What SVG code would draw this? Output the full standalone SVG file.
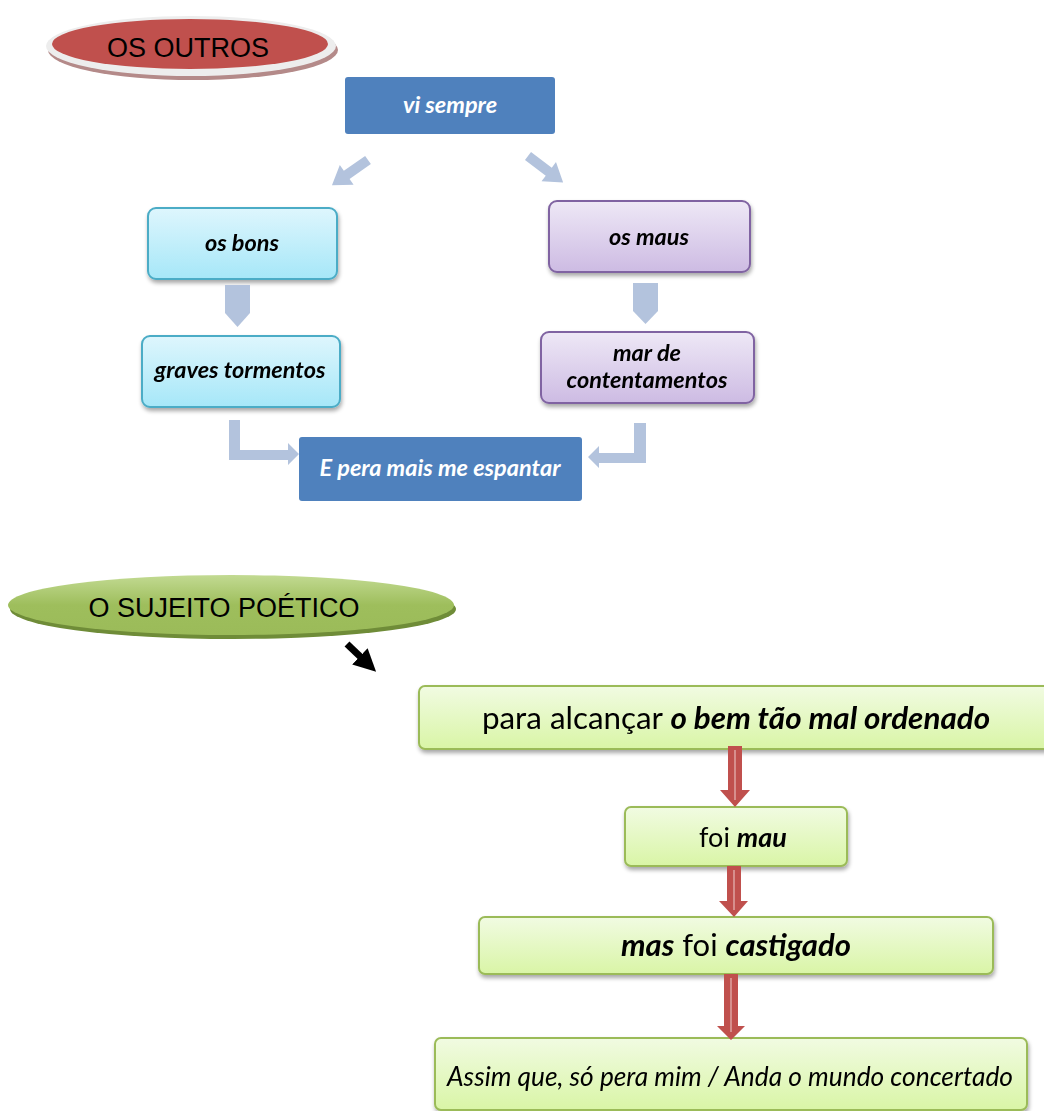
<svg xmlns="http://www.w3.org/2000/svg" width="1044" height="1111" viewBox="0 0 1044 1111">
  <defs>
    <linearGradient id="gCyan" x1="0" y1="0" x2="0" y2="1">
      <stop offset="0" stop-color="#DEF6FD"/>
      <stop offset="1" stop-color="#A6E7F8"/>
    </linearGradient>
    <linearGradient id="gPurple" x1="0" y1="0" x2="0" y2="1">
      <stop offset="0" stop-color="#EEE8F6"/>
      <stop offset="1" stop-color="#CDBBE3"/>
    </linearGradient>
    <linearGradient id="gLime" x1="0" y1="0" x2="0" y2="1">
      <stop offset="0" stop-color="#F1FBE2"/>
      <stop offset="1" stop-color="#D9F5A6"/>
    </linearGradient>
    <linearGradient id="gOlive" x1="0" y1="0" x2="0" y2="1">
      <stop offset="0" stop-color="#C2DA92"/>
      <stop offset="0.5" stop-color="#9EBE5C"/>
      <stop offset="1" stop-color="#9BBB59"/>
    </linearGradient>
    <filter id="shadow" x="-10%" y="-20%" width="120%" height="150%">
      <feGaussianBlur in="SourceAlpha" stdDeviation="2"/>
      <feOffset dx="1" dy="3" result="b"/>
      <feComponentTransfer><feFuncA type="linear" slope="0.35"/></feComponentTransfer>
      <feMerge><feMergeNode/><feMergeNode in="SourceGraphic"/></feMerge>
    </filter>
    <marker id="blackHead" viewBox="0 0 10 10" refX="5" refY="5" markerWidth="3.2" markerHeight="3.2" orient="auto">
      <path d="M0,0 L10,5 L0,10 z" fill="#000"/>
    </marker>
  </defs>
  <style>
    .lbl { font-family: Lato, "Open Sans", "Liberation Sans", sans-serif; font-weight: bold; font-style: italic; font-size: 23.5px; text-anchor: middle; }
    .dark { fill: #000; }
    .light { fill: #fff; }
    .head { font-family: "Liberation Sans", Arial, sans-serif; font-size: 27px; fill: #000; text-anchor: middle; }
    .big { font-family: Lato, "Open Sans", "Liberation Sans", sans-serif; font-size: 30px; fill: #000; text-anchor: middle; }
    .big .em { font-weight: bold; font-style: italic; }
    .blueArrow { fill: #B3C3DD; }
    .redArrow { fill: #C0504D; }
    .redLine { stroke: #E6B9B8; stroke-width: 1.2; }
  </style>

  <!-- title ellipse: OS OUTROS -->
  <g id="os-outros">
    <ellipse cx="193" cy="50" rx="145" ry="30" fill="#B48A89"/>
    <ellipse cx="191" cy="46" rx="145" ry="30" fill="#EDEDED"/>
    <ellipse cx="190" cy="44" rx="138" ry="25" fill="#C0504D"/>
    <text class="head" x="188" y="57">OS OUTROS</text>
  </g>

  <!-- upper flow nodes -->
  <g id="vi-sempre">
    <rect x="345" y="77" width="210" height="57" rx="3" fill="#4F81BD"/>
    <text class="lbl light" x="450" y="113">vi sempre</text>
  </g>
  <g id="os-bons" filter="url(#shadow)">
    <rect x="148" y="208" width="189" height="71" rx="8" fill="url(#gCyan)" stroke="#4BACC6" stroke-width="2"/>
    <text class="lbl dark" x="242" y="251">os bons</text>
  </g>
  <g id="graves-tormentos" filter="url(#shadow)">
    <rect x="142" y="336" width="198" height="71" rx="8" fill="url(#gCyan)" stroke="#4BACC6" stroke-width="2"/>
    <text class="lbl dark" x="240" y="378">graves tormentos</text>
  </g>
  <g id="os-maus" filter="url(#shadow)">
    <rect x="549" y="201" width="201" height="71" rx="8" fill="url(#gPurple)" stroke="#8064A2" stroke-width="2"/>
    <text class="lbl dark" x="649" y="245">os maus</text>
  </g>
  <g id="mar-de-contentamentos" filter="url(#shadow)">
    <rect x="541" y="332" width="213" height="71" rx="8" fill="url(#gPurple)" stroke="#8064A2" stroke-width="2"/>
    <text class="lbl dark" x="647" y="361">mar de</text>
    <text class="lbl dark" x="647" y="388">contentamentos</text>
  </g>
  <g id="e-pera-mais-me-espantar">
    <rect x="299" y="437" width="283" height="64" rx="3" fill="#4F81BD"/>
    <text class="lbl light" x="440" y="476">E pera mais me espantar</text>
  </g>

  <!-- second title ellipse -->
  <g id="o-sujeito-poetico">
    <ellipse cx="233" cy="609" rx="223" ry="30" fill="#6F8C38"/>
    <ellipse cx="231" cy="605" rx="223" ry="30" fill="url(#gOlive)"/>
    <text class="head" x="224" y="617">O SUJEITO POÉTICO</text>
  </g>

  <!-- lower flow nodes -->
  <g id="para-alcancar" filter="url(#shadow)">
    <rect x="419" y="686" width="632" height="63" rx="6" fill="url(#gLime)" stroke="#9BBB59" stroke-width="2"/>
    <text class="big" x="736" y="729" style="font-size:31.4px">para alcançar <tspan class="em">o bem tão mal ordenado</tspan></text>
  </g>
  <g id="foi-mau" filter="url(#shadow)">
    <rect x="625" y="807" width="222" height="59" rx="6" fill="url(#gLime)" stroke="#9BBB59" stroke-width="2"/>
    <text class="big" x="743" y="847" style="font-size:27px">foi <tspan class="em">mau</tspan></text>
  </g>
  <g id="mas-foi-castigado" filter="url(#shadow)">
    <rect x="479" y="917" width="514" height="57" rx="6" fill="url(#gLime)" stroke="#9BBB59" stroke-width="2"/>
    <text class="big" x="736" y="956" style="font-size:31px"><tspan class="em">mas</tspan> foi <tspan class="em">castigado</tspan></text>
  </g>
  <g id="assim-que" filter="url(#shadow)">
    <rect x="435" y="1038" width="592" height="72" rx="6" fill="url(#gLime)" stroke="#9BBB59" stroke-width="2"/>
    <text class="big" x="730" y="1086" style="font-size:26.3px;font-style:italic">Assim que, só pera mim / Anda o mundo concertado</text>
  </g>

  <!-- connectors -->
  <g id="connectors">
    <!-- diagonal arrows from "vi sempre" -->
    <polygon class="blueArrow" points="0,-5 26,-5 26,-12 44,0 26,12 26,5 0,5" transform="translate(368,160) rotate(145)"/>
    <polygon class="blueArrow" points="0,-5 26,-5 26,-12 44,0 26,12 26,5 0,5" transform="translate(528,156) rotate(37)"/>
    <!-- straight down arrows -->
    <polygon class="blueArrow" points="225,285 250,285 250,313 237.5,327 225,313"/>
    <polygon class="blueArrow" points="633,283 658,283 658,311 645.5,324 633,311"/>
    <!-- elbow arrows into "E pera mais me espantar" -->
    <polygon class="blueArrow" points="229,420 240,420 240,450 288,450 288,443 299,454 288,465 288,460 229,460"/>
    <polygon class="blueArrow" points="646,423 634,423 634,453 599,453 599,446 588,457 599,468 599,463 646,463"/>
    <!-- black arrow from "O SUJEITO POÉTICO" -->
    <line x1="347" y1="644" x2="368" y2="664" stroke="#000" stroke-width="7" marker-end="url(#blackHead)"/>
    <!-- red arrows down the lower column -->
    <polygon class="redArrow" points="728,746 742,746 742,790 750,790 735,807 720,790 728,790"/>
    <line class="redLine" x1="735" y1="750" x2="735" y2="800"/>
    <polygon class="redArrow" points="727,866 741,866 741,901 748,901 734,917 719,901 727,901"/>
    <line class="redLine" x1="734" y1="870" x2="734" y2="910"/>
    <polygon class="redArrow" points="724,974 738,974 738,1026 745,1026 731,1040 717,1026 724,1026"/>
    <line class="redLine" x1="731" y1="978" x2="731" y2="1032"/>
  </g>
</svg>
